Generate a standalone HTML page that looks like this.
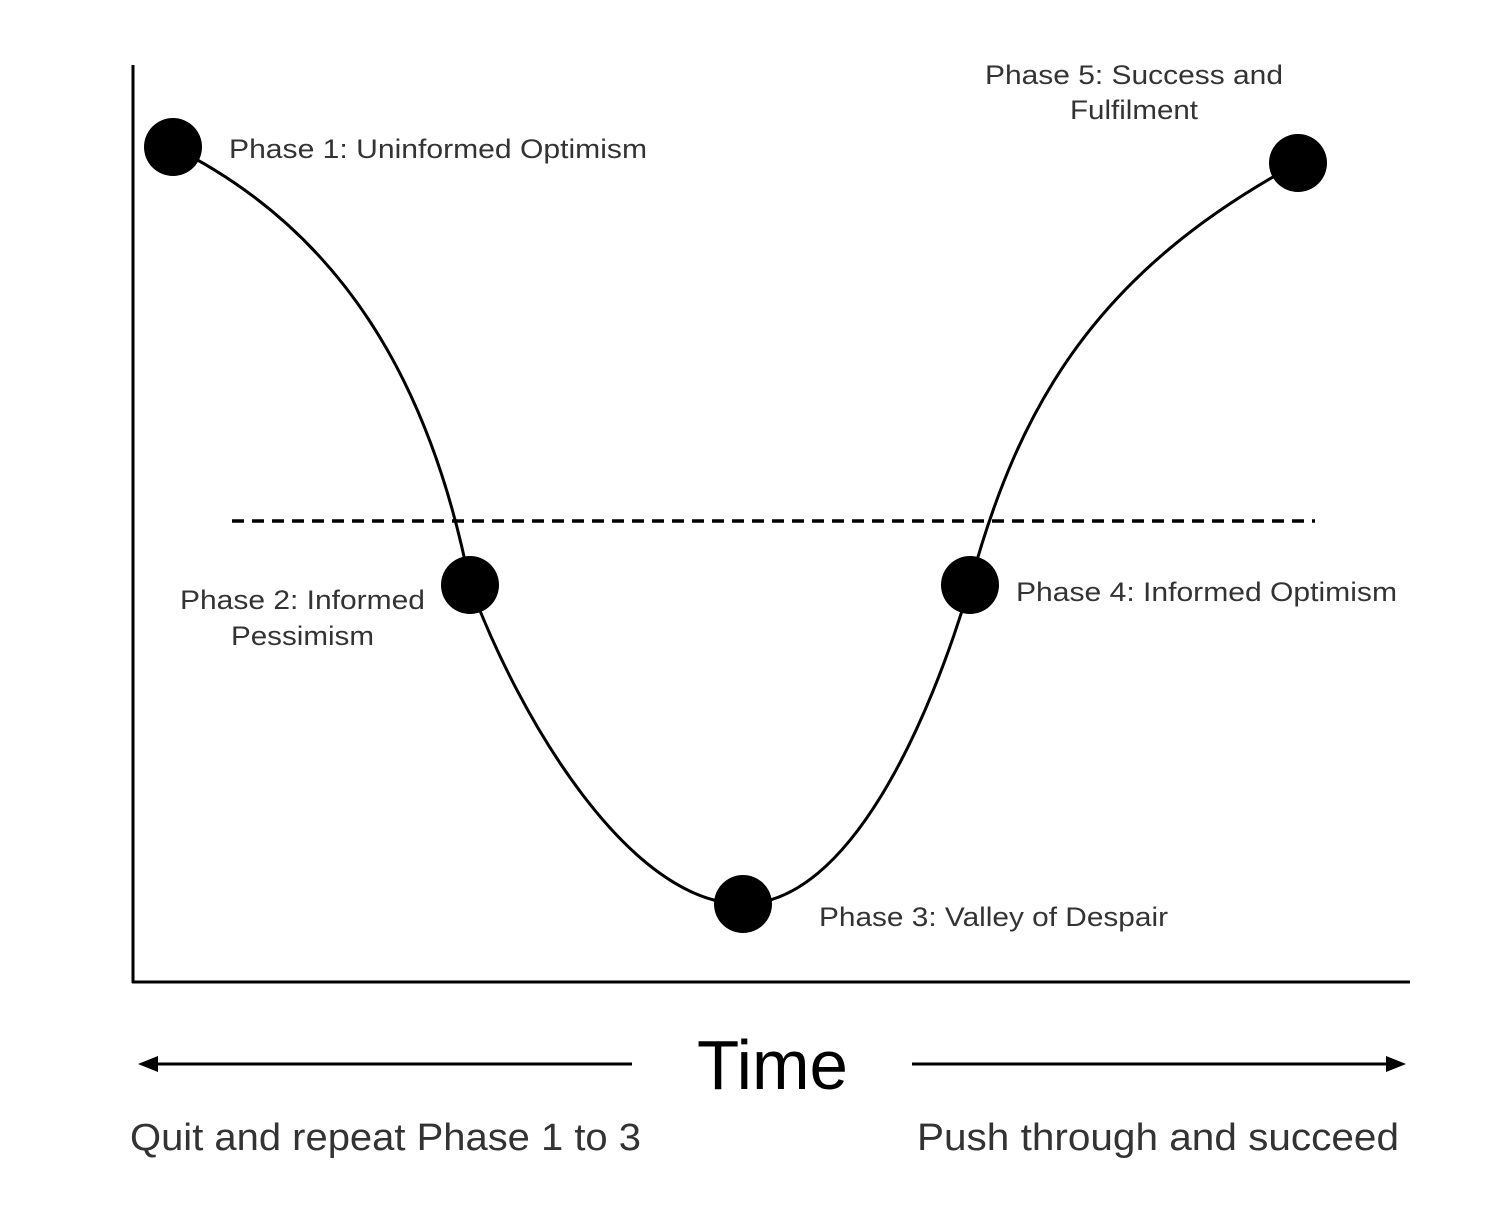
<!DOCTYPE html>
<html><head><meta charset="utf-8"><style>
body{margin:0;background:#fff;}
svg{display:block}
text{font-family:"Liberation Sans",sans-serif;fill:#333;}
</style></head><body>
<svg width="1504" height="1216" viewBox="0 0 1504 1216">
<line x1="133" y1="65" x2="133" y2="983" stroke="#000" stroke-width="3"/>
<line x1="132" y1="982" x2="1410" y2="982" stroke="#000" stroke-width="3"/>
<line x1="232" y1="521" x2="1315" y2="521" stroke="#000" stroke-width="3.5" stroke-dasharray="12,8"/>
<path d="M173,147 C340,230 430,380 470,585 C520,720 630,904 743,904 C850,904 930,720 970,585 C1020,400 1100,270 1298,163" fill="none" stroke="#000" stroke-width="3"/>
<circle cx="173" cy="147" r="29"/>
<circle cx="470" cy="585" r="29"/>
<circle cx="743" cy="904" r="29"/>
<circle cx="970" cy="585" r="29"/>
<circle cx="1298" cy="163" r="29"/>
<text x="229" y="158" font-size="27" textLength="418" lengthAdjust="spacingAndGlyphs">Phase 1: Uninformed Optimism</text>
<text x="180" y="609" font-size="27" textLength="245" lengthAdjust="spacingAndGlyphs">Phase 2: Informed</text>
<text x="231" y="645" font-size="27" textLength="143" lengthAdjust="spacingAndGlyphs">Pessimism</text>
<text x="819" y="926" font-size="27" textLength="349" lengthAdjust="spacingAndGlyphs">Phase 3: Valley of Despair</text>
<text x="1016" y="601" font-size="27" textLength="381" lengthAdjust="spacingAndGlyphs">Phase 4: Informed Optimism</text>
<text x="985" y="84" font-size="27" textLength="298" lengthAdjust="spacingAndGlyphs">Phase 5: Success and</text>
<text x="1070" y="119" font-size="27" textLength="128" lengthAdjust="spacingAndGlyphs">Fulfilment</text>
<text x="697" y="1089" font-size="70" textLength="151" lengthAdjust="spacingAndGlyphs" style="fill:#000">Time</text>
<line x1="150" y1="1064" x2="632" y2="1064" stroke="#000" stroke-width="3"/>
<polygon points="138,1064 158,1056 158,1072" fill="#000"/>
<line x1="912" y1="1064" x2="1393" y2="1064" stroke="#000" stroke-width="3"/>
<polygon points="1406,1064 1386,1056 1386,1072" fill="#000"/>
<text x="130" y="1150" font-size="38" textLength="511" lengthAdjust="spacingAndGlyphs">Quit and repeat Phase 1 to 3</text>
<text x="917" y="1150" font-size="38" textLength="482" lengthAdjust="spacingAndGlyphs">Push through and succeed</text>
</svg>
</body></html>
